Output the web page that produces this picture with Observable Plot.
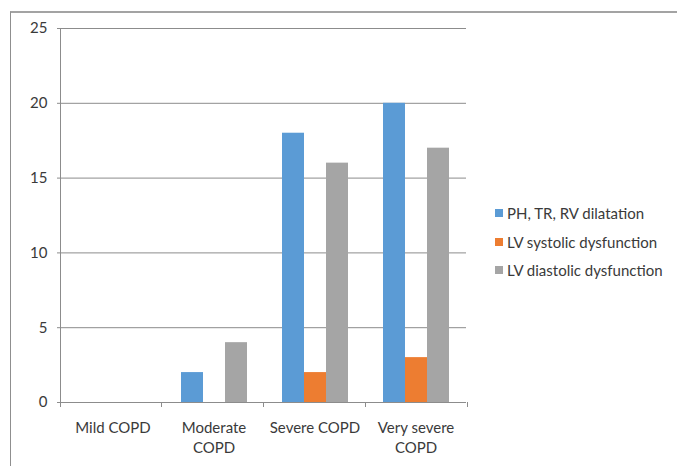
<!DOCTYPE html>
<html>
<head>
<meta charset="utf-8">
<script src="https://cdn.jsdelivr.net/npm/d3@7"></script>
<script src="https://cdn.jsdelivr.net/npm/@observablehq/plot@0.6"></script>
<style>
  html, body { margin: 0; padding: 0; background: #fff; }
  #wrap { position: relative; width: 677px; height: 466px; overflow: hidden; font-family: Lato, "Open Sans", sans-serif; }
  #border { position: absolute; left: 10px; top: 11px; width: 720px; height: 520px;
            border-top: 2px solid #a3a3a3; border-left: 1px solid #8f8f8f; }
  #chart { position: absolute; left: 0; top: 0; }
  #legend { position: absolute; left: 495px; top: 199px; font-size: 15px; color: #3a3a3a; }
  #legend .row { display: flex; align-items: center; height: 28.5px; white-space: nowrap; }
  #legend .sw { width: 8px; height: 8px; margin-right: 4px; flex: none; }
</style>
</head>
<body>
<div id="wrap">
  <div id="border"></div>
  <div id="chart"></div>
  <div id="legend"></div>
</div>
<script>
// COPD severity groups and the number of patients with each echocardiographic finding
const categories = ["Mild COPD", "Moderate COPD", "Severe COPD", "Very severe COPD"];
const categoryLabels = ["Mild COPD", "Moderate\nCOPD", "Severe COPD", "Very severe\nCOPD"];
const series = ["PH, TR, RV dilatation", "LV systolic dysfunction", "LV diastolic dysfunction"];
const colors = ["#5b9bd5", "#ed7d31", "#a5a5a5"];
const phTrRv = [0, 2, 18, 20];
const lvSystolic = [0, 0, 2, 3];
const lvDiastolic = [0, 4, 16, 17];
const yTicks = [0, 5, 10, 15, 20, 25];

const values = [phTrRv, lvSystolic, lvDiastolic];
const rows = categories.flatMap((category, i) =>
  series.map((s, j) => ({category, series: s, value: values[j][i]}))
);

const chart = Plot.plot({
  width: 677,
  height: 466,
  marginTop: 28,
  marginBottom: 64,
  marginLeft: 60,
  marginRight: 210,
  style: {fontFamily: "Lato, 'Open Sans', sans-serif", fontSize: "15px", color: "#3a3a3a", background: "transparent"},
  fx: {domain: categories, padding: 0, label: null},
  x: {domain: series, paddingInner: 0, paddingOuter: 0.76, axis: null},
  y: {domain: [0, 25], label: null},
  color: {domain: series, range: colors},
  marks: [
    Plot.gridY(yTicks, {stroke: "#8c8c8c", strokeOpacity: 1}),
    Plot.axisY(yTicks, {tickSize: 5, tickPadding: 10, label: null, stroke: "#8c8c8c"}),
    Plot.barY(rows, {fx: "category", x: "series", y: "value", fill: "series"}),
    Plot.axisFx({
      anchor: "bottom",
      tickSize: 0,
      tickPadding: 16,
      label: null,
      lineHeight: 1.33,
      tickFormat: (d) => categoryLabels[categories.indexOf(d)]
    }),
    Plot.ruleY([0], {stroke: "#8c8c8c"})
  ]
});
document.getElementById("chart").appendChild(chart);

// Value axis line and category separator ticks, placed from the plot's own scales
const fxs = chart.scale("fx");
const ys = chart.scale("y");
const yScale = d3.scaleLinear(ys.domain, ys.range);
const [fx0, fx1] = [fxs.range[0], fxs.range[1]];
const step = (fx1 - fx0) / categories.length;
const g = d3.select(chart).append("g").attr("stroke", "#8c8c8c").attr("shape-rendering", "crispEdges");
g.append("line")
  .attr("x1", fx0).attr("x2", fx0)
  .attr("y1", yScale(ys.domain[1])).attr("y2", yScale(0));
d3.range(categories.length + 1).forEach((i) => {
  const x = fx0 + i * step;
  g.append("line").attr("x1", x).attr("x2", x).attr("y1", yScale(0)).attr("y2", yScale(0) + 5);
});

// Legend
const legend = d3.select("#legend");
series.forEach((s, i) => {
  const row = legend.append("div").attr("class", "row");
  row.append("div").attr("class", "sw").style("background", colors[i]);
  row.append("span").text(s);
});
</script>
</body>
</html>
